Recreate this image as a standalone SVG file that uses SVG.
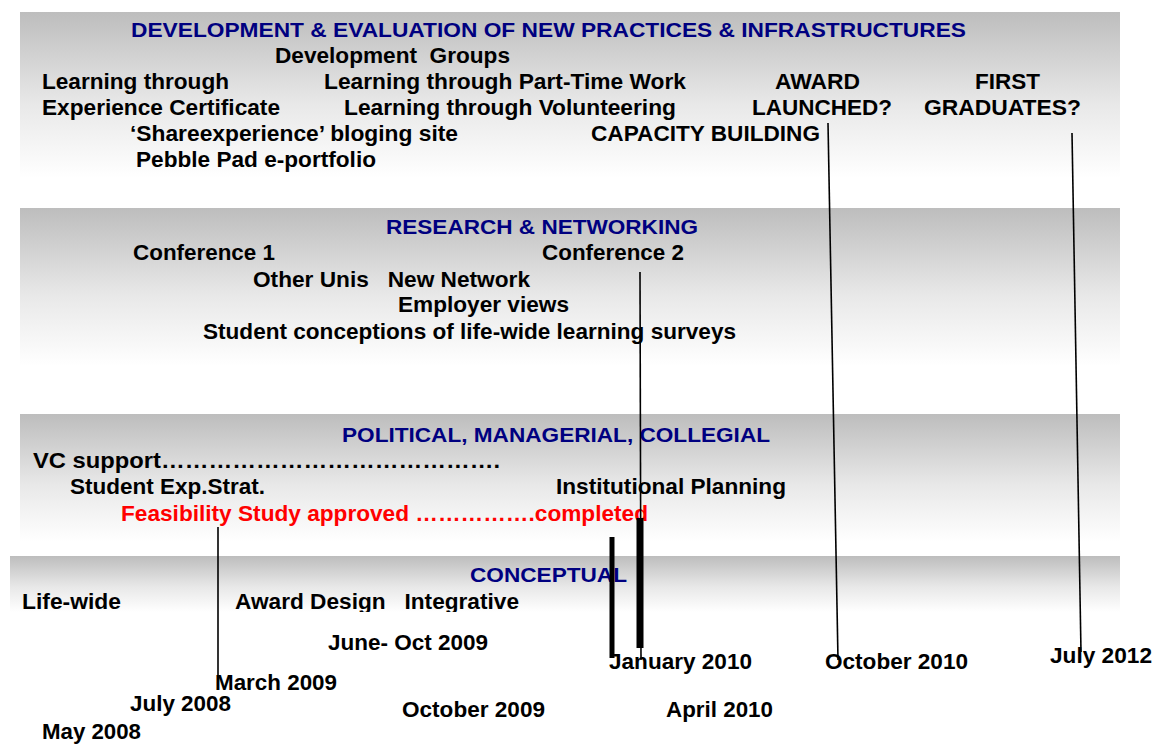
<svg xmlns="http://www.w3.org/2000/svg" width="1153" height="744" viewBox="0 0 1153 744">
  <defs>
    <linearGradient id="bandFade" x1="0" y1="0" x2="0" y2="1">
      <stop offset="0" stop-color="#bdbdbd"/>
      <stop offset="0.55" stop-color="#e8e8e8"/>
      <stop offset="1" stop-color="#ffffff"/>
    </linearGradient>
    <clipPath id="conceptClip">
      <rect x="0" y="550" width="1153" height="62"/>
    </clipPath>
  </defs>
  <style>
    text { font-family: "Liberation Sans", Arial, sans-serif; font-weight: bold; white-space: pre; }
    .head { font-size: 21px; fill: #000080; }
    .item { font-size: 22px; fill: #000000; }
    .red { font-size: 22px; fill: #ff0000; }
    .band { fill: url(#bandFade); }
    .thin { stroke: #000; stroke-width: 1.6; fill: none; }
    .bar { stroke: #000; fill: none; }
  </style>

  <rect width="1153" height="744" fill="#ffffff"/>

  <!-- Development & evaluation band -->
  <g id="band-development">
    <rect class="band" x="20" y="12" width="1100" height="166"/>
    <text class="head" x="131" y="37" textLength="835" lengthAdjust="spacingAndGlyphs">DEVELOPMENT &amp; EVALUATION OF NEW PRACTICES &amp; INFRASTRUCTURES</text>
    <text class="item" x="275" y="63" textLength="235" lengthAdjust="spacingAndGlyphs">Development  Groups</text>
    <text class="item" x="42" y="89" textLength="187" lengthAdjust="spacingAndGlyphs">Learning through</text>
    <text class="item" x="324" y="89" textLength="362" lengthAdjust="spacingAndGlyphs">Learning through Part-Time Work</text>
    <text class="item" x="775" y="89" textLength="85" lengthAdjust="spacingAndGlyphs">AWARD</text>
    <text class="item" x="975" y="89" textLength="65" lengthAdjust="spacingAndGlyphs">FIRST</text>
    <text class="item" x="42" y="115" textLength="238" lengthAdjust="spacingAndGlyphs">Experience Certificate</text>
    <text class="item" x="344" y="115" textLength="332" lengthAdjust="spacingAndGlyphs">Learning through Volunteering</text>
    <text class="item" x="752" y="115" textLength="140" lengthAdjust="spacingAndGlyphs">LAUNCHED?</text>
    <text class="item" x="924" y="115" textLength="157" lengthAdjust="spacingAndGlyphs">GRADUATES?</text>
    <text class="item" x="130" y="141" textLength="328" lengthAdjust="spacingAndGlyphs">‘Shareexperience’ bloging site</text>
    <text class="item" x="591" y="141" textLength="229" lengthAdjust="spacingAndGlyphs">CAPACITY BUILDING</text>
    <text class="item" x="136" y="167" textLength="240" lengthAdjust="spacingAndGlyphs">Pebble Pad e-portfolio</text>
  </g>

  <!-- Research & networking band -->
  <g id="band-research">
    <rect class="band" x="20" y="208" width="1100" height="158"/>
    <text class="head" x="386" y="234" textLength="312" lengthAdjust="spacingAndGlyphs">RESEARCH &amp; NETWORKING</text>
    <text class="item" x="133" y="260" textLength="142" lengthAdjust="spacingAndGlyphs">Conference 1</text>
    <text class="item" x="542" y="260" textLength="142" lengthAdjust="spacingAndGlyphs">Conference 2</text>
    <text class="item" x="253" y="287" textLength="277" lengthAdjust="spacingAndGlyphs">Other Unis   New Network</text>
    <text class="item" x="398" y="312" textLength="171" lengthAdjust="spacingAndGlyphs">Employer views</text>
    <text class="item" x="203" y="339" textLength="533" lengthAdjust="spacingAndGlyphs">Student conceptions of life-wide learning surveys</text>
  </g>

  <!-- Political, managerial, collegial band -->
  <g id="band-political">
    <rect class="band" x="20" y="414" width="1100" height="128"/>
    <text class="head" x="342" y="442" textLength="428" lengthAdjust="spacingAndGlyphs">POLITICAL, MANAGERIAL, COLLEGIAL</text>
    <text class="item" x="33" y="468" textLength="467" lengthAdjust="spacingAndGlyphs">VC support…………………………………….</text>
    <text class="item" x="70" y="494" textLength="195" lengthAdjust="spacingAndGlyphs">Student Exp.Strat.</text>
    <text class="item" x="556" y="494" textLength="230" lengthAdjust="spacingAndGlyphs">Institutional Planning</text>
    <text class="red" x="121" y="521" textLength="527" lengthAdjust="spacingAndGlyphs">Feasibility Study approved …………….completed</text>
  </g>

  <!-- Conceptual band -->
  <g id="band-conceptual">
    <rect class="band" x="10" y="556" width="1110" height="56"/>
    <g clip-path="url(#conceptClip)">
      <text class="head" x="470" y="582" textLength="157" lengthAdjust="spacingAndGlyphs">CONCEPTUAL</text>
      <text class="item" x="22" y="609" textLength="99" lengthAdjust="spacingAndGlyphs">Life-wide</text>
      <text class="item" x="235" y="609" textLength="284" lengthAdjust="spacingAndGlyphs">Award Design   Integrative</text>
    </g>
  </g>

  <!-- Timeline markers -->
  <g id="connectors">
    <line class="thin" x1="218" y1="527" x2="218" y2="676"/>
    <line class="thin" x1="640" y1="272" x2="641" y2="660"/>
    <line class="thin" x1="828" y1="123" x2="838" y2="660"/>
    <line class="thin" x1="1072" y1="133" x2="1081" y2="652"/>
    <line class="bar" x1="612" y1="537" x2="612" y2="658" stroke-width="5"/>
    <line class="bar" x1="640" y1="518" x2="640" y2="648" stroke-width="7"/>
  </g>

  <!-- Dates -->
  <g id="dates">
    <text class="item" x="328" y="650" textLength="160" lengthAdjust="spacingAndGlyphs">June- Oct 2009</text>
    <text class="item" x="609" y="669" textLength="143" lengthAdjust="spacingAndGlyphs">January 2010</text>
    <text class="item" x="825" y="669" textLength="143" lengthAdjust="spacingAndGlyphs">October 2010</text>
    <text class="item" x="1050" y="663" textLength="102" lengthAdjust="spacingAndGlyphs">July 2012</text>
    <text class="item" x="215" y="690" textLength="122" lengthAdjust="spacingAndGlyphs">March 2009</text>
    <text class="item" x="130" y="711" textLength="101" lengthAdjust="spacingAndGlyphs">July 2008</text>
    <text class="item" x="402" y="717" textLength="143" lengthAdjust="spacingAndGlyphs">October 2009</text>
    <text class="item" x="666" y="717" textLength="107" lengthAdjust="spacingAndGlyphs">April 2010</text>
    <text class="item" x="42" y="739" textLength="99" lengthAdjust="spacingAndGlyphs">May 2008</text>
  </g>
</svg>
